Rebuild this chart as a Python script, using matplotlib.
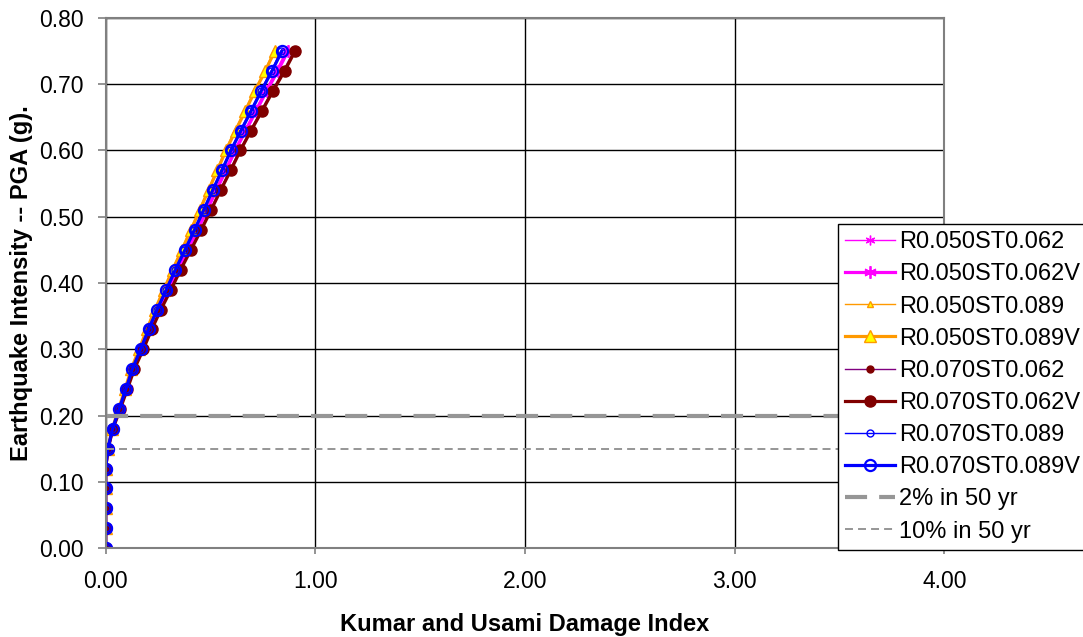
import numpy as np
import matplotlib
matplotlib.use('Agg')
from matplotlib import pyplot as plt

plt.rcParams['font.family'] = ['Liberation Sans', 'DejaVu Sans']

# PGA levels (g)
pga = [0.00, 0.03, 0.06, 0.09, 0.12, 0.15, 0.18, 0.21, 0.24, 0.27, 0.30, 0.33, 0.36,
       0.39, 0.42, 0.45, 0.48, 0.51, 0.54, 0.57, 0.60, 0.63, 0.66, 0.69, 0.72, 0.75]

# damage index per model
r050_st062 = [0, 0, 0, 0, 0, 0.011, 0.034, 0.067, 0.099, 0.130, 0.171, 0.210, 0.252,
              0.297, 0.341, 0.388, 0.434, 0.479, 0.523, 0.568, 0.612, 0.662, 0.712, 0.761, 0.813, 0.861]
r050_st062v = [0, 0, 0, 0, 0, 0.011, 0.034, 0.067, 0.100, 0.131, 0.173, 0.212, 0.255,
               0.300, 0.345, 0.392, 0.439, 0.484, 0.529, 0.574, 0.619, 0.669, 0.719, 0.769, 0.822, 0.870]
r050_st089 = [0, 0, 0, 0, 0, 0.010, 0.031, 0.061, 0.092, 0.121, 0.159, 0.195, 0.234,
              0.276, 0.317, 0.361, 0.404, 0.446, 0.488, 0.529, 0.570, 0.616, 0.663, 0.709, 0.758, 0.803]
r050_st089v = [0, 0, 0, 0, 0, 0.011, 0.032, 0.062, 0.093, 0.122, 0.160, 0.197, 0.236,
               0.278, 0.320, 0.364, 0.407, 0.449, 0.491, 0.533, 0.574, 0.620, 0.667, 0.713, 0.762, 0.807]
r070_st062 = [0, 0, 0, 0, 0, 0.012, 0.035, 0.069, 0.103, 0.135, 0.178, 0.218, 0.262,
              0.309, 0.355, 0.404, 0.452, 0.499, 0.545, 0.592, 0.638, 0.689, 0.741, 0.793, 0.847, 0.897]
r070_st062v = [0, 0, 0, 0, 0, 0.012, 0.035, 0.070, 0.104, 0.137, 0.180, 0.220, 0.264,
               0.312, 0.358, 0.407, 0.456, 0.503, 0.549, 0.597, 0.643, 0.694, 0.747, 0.799, 0.854, 0.904]
r070_st089 = [0, 0, 0, 0, 0, 0.010, 0.032, 0.063, 0.095, 0.126, 0.165, 0.203, 0.244,
              0.287, 0.330, 0.376, 0.421, 0.465, 0.508, 0.552, 0.595, 0.642, 0.691, 0.739, 0.790, 0.836]
r070_st089v = [0, 0, 0, 0, 0, 0.011, 0.033, 0.065, 0.097, 0.127, 0.167, 0.205, 0.246,
               0.290, 0.333, 0.379, 0.424, 0.468, 0.511, 0.555, 0.598, 0.646, 0.695, 0.743, 0.794, 0.841]

hazard_2in50 = 0.20
hazard_10in50 = 0.15

fig = plt.figure(figsize=(10.83, 6.37), dpi=100)
ax = fig.add_axes([0.0975, 0.1395, 0.7745, 0.8325])

star = (6, 2, 0)
ax.plot(r050_st062, pga, color='#FF00FF', lw=1.0, marker=star, ms=7, mew=1.0, label='R0.050ST0.062')
ax.plot(r050_st062v, pga, color='#FF00FF', lw=2.3, marker=star, ms=9, mew=1.3, label='R0.050ST0.062V')
ax.plot(r050_st089, pga, color='#FF9900', lw=1.0, marker='^', ms=5, mfc='#FFFF00', mec='#FF9900', label='R0.050ST0.089')
ax.plot(r050_st089v, pga, color='#FF9900', lw=2.3, marker='^', ms=8, mfc='#FFFF00', mec='#FF9900', label='R0.050ST0.089V')
ax.plot(r070_st062, pga, color='#800080', lw=1.0, marker='o', ms=5, mfc='#800000', mec='#800000', label='R0.070ST0.062')
ax.plot(r070_st062v, pga, color='#800000', lw=2.3, marker='o', ms=8, mfc='#800000', mec='#800000', label='R0.070ST0.062V')
ax.plot(r070_st089, pga, color='#0000FF', lw=1.0, marker='o', ms=5, mfc='none', mec='#0000FF', label='R0.070ST0.089')
ax.plot(r070_st089v, pga, color='#0000FF', lw=2.3, marker='o', ms=8, mfc='none', mec='#0000FF', mew=1.6, label='R0.070ST0.089V')

ax.plot([0, 4], [hazard_2in50, hazard_2in50], color='#969696', lw=3.0, dashes=(5.3, 2.9), label='2% in 50 yr')
ax.plot([0, 4], [hazard_10in50, hazard_10in50], color='#969696', lw=1.4, dashes=(4.1, 2.6), label='10% in 50 yr')

ax.set_xlim(0, 4)
ax.set_ylim(0, 0.8)
ax.set_xticks(np.arange(0, 4.01, 1.0))
ax.set_yticks(np.arange(0, 0.801, 0.1))
ax.set_xticklabels(['%.2f' % v for v in np.arange(0, 4.01, 1.0)])
ax.set_yticklabels(['%.2f' % v for v in np.arange(0, 0.801, 0.1)])
ax.grid(True, color='black', lw=1.0)
ax.set_axisbelow(True)
for s in ax.spines.values():
    s.set_color('#808080')
    s.set_linewidth(1.5)
ax.tick_params(axis='both', labelsize=16.5, direction='out', color='#808080', width=1.2)
ax.tick_params(axis='x', pad=12, length=4)
ax.tick_params(axis='y', pad=10, length=6)

ax.set_xlabel('Kumar and Usami Damage Index', fontsize=17, fontweight='bold', labelpad=14)
ax.set_ylabel('Earthquake Intensity -- PGA (g).', fontsize=17, fontweight='bold', labelpad=4)

leg = ax.legend(loc='upper left', bbox_to_anchor=(0.873, 0.611), bbox_transform=ax.transAxes,
                fontsize=17, frameon=True, fancybox=False, edgecolor='black', framealpha=1,
                borderpad=0.3, labelspacing=0.43, handlelength=2.1, handletextpad=0.2, borderaxespad=0)
leg.get_frame().set_linewidth(1.0)
leg.set_zorder(10)

plt.savefig('out.png', dpi=100)
